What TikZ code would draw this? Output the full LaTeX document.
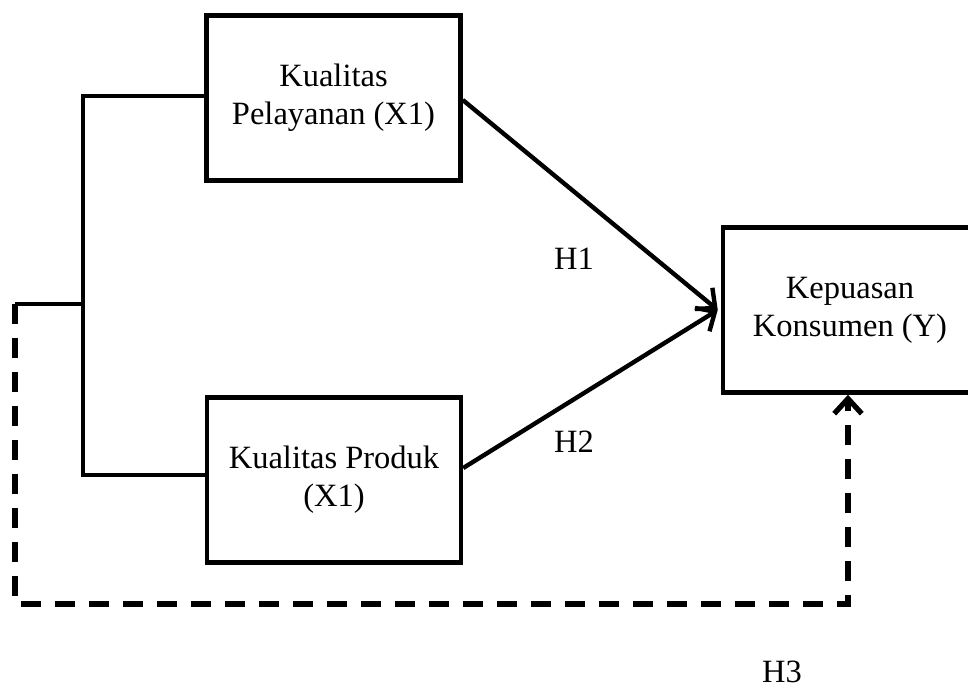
\documentclass[tikz,border=0pt]{standalone}
\usepackage{fontspec}
\setmainfont{Liberation Serif}
\usetikzlibrary{arrows.meta,positioning}

\begin{document}
\begin{tikzpicture}[x=0.02cm, y=-0.02cm,
  varbox/.style={draw, line width=2.6pt, minimum width=5.08cm, minimum height=3.3cm,
    inner sep=0pt, align=center, font=\fontsize{18.5}{21.6}\selectfont},
  hlabel/.style={inner sep=0pt, font=\fontsize{18.5}{21.6}\selectfont},
  link/.style={line width=2.5pt},
  barb/.style={-{Straight Barb[length=3mm, width=5.5mm]}},
  dashlink/.style={line width=3pt, dash pattern=on 0.4cm off 0.28cm}]
  \useasboundingbox (0,0) rectangle (968,688);

  % Variables
  \node[varbox] (service) at (333.5,98) {Kualitas\\Pelayanan (X1)};
  \node[varbox] (product) at (334,480) {Kualitas Produk\\(X1)};
  \node[varbox] (satisfaction) at (850,310) {Kepuasan\\Konsumen (Y)};

  % Bracket joining both X variables
  \coordinate (spinetop) at (83,96);
  \coordinate (spinebot) at (83,475);
  \coordinate (stub) at (15,304);
  \draw[link] (service.west |- spinetop) -- (spinetop) -- (spinebot) -- (product.west |- spinebot);
  \draw[link] (stub) -- (stub -| spinetop);

  % Partial effects
  \draw[link, barb] ([yshift=-0.04cm]service.east) -- ([xshift=-0.06cm]satisfaction.west);
  \draw[link, barb] ([yshift=0.24cm]product.east) -- ([xshift=-0.06cm]satisfaction.west);
  \node[hlabel] (h1) at (574,259) {H1};
  \node[hlabel] (h2) at (574,442) {H2};

  % Simultaneous effect
  \draw[dashlink, barb] (stub) -- (15,604) -| ([xshift=-0.04cm]satisfaction.south);
  \node[hlabel] (h3) at (782,672) {H3};
\end{tikzpicture}
\end{document}
